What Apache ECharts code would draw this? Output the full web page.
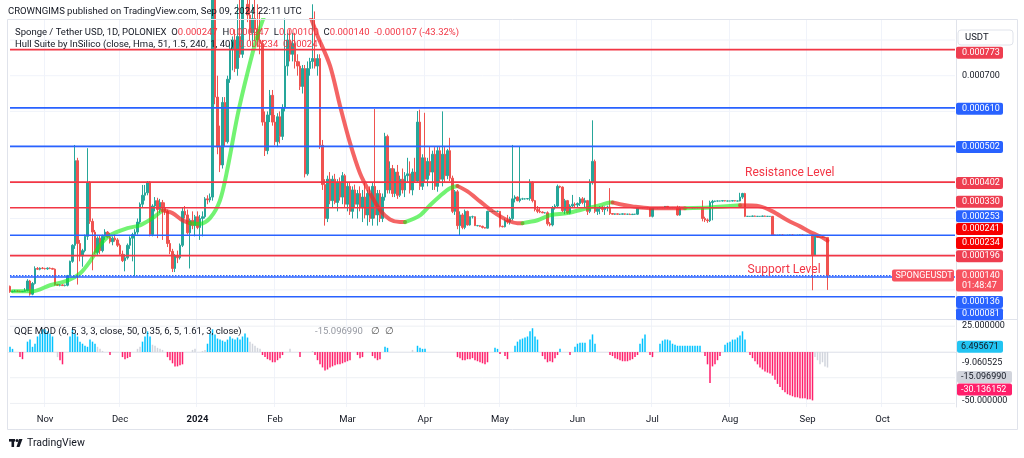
<!DOCTYPE html>
<html><head><meta charset="utf-8">
<script src="https://cdn.jsdelivr.net/npm/echarts@6/dist/echarts.min.js"></script>
<style>html,body{margin:0;padding:0;background:#fff;}#c{width:1024px;height:458px;}</style>
</head><body><div id="c"></div>
<script>
// ---------------- DATA (prices in micro-USDT, i.e. 1e-6 USDT) ----------------
const firstCandleDate = '2023-10-18';
const axisDays = 379; // category slots on the time axis (data ends 2024-09-09)
const monthLabels = {'2023-11-01':'Nov','2023-12-01':'Dec','2024-01-01':'2024','2024-02-01':'Feb','2024-03-01':'Mar',
  '2024-04-01':'Apr','2024-05-01':'May','2024-06-01':'Jun','2024-07-01':'Jul','2024-08-01':'Aug','2024-09-01':'Sep','2024-10-01':'Oct'};
// daily candles [open, high, low, close]
const candles = [
[110,112,92,95],[95,98,93,96],[96,100,94,97],[97,99,95,96],[96,98,94,95],[95,97,94,96],[96,105,95,98],[98,130,96,125],[125,128,84,88],[88,122,85,118],
[118,166,115,160],[160,164,156,158],[158,163,155,161],[161,164,158,160],[160,162,157,159],[159,163,156,161],[161,163,158,160],[160,162,157,158],[158,160,112,115],[115,117,111,113],
[113,116,110,114],[114,116,111,112],[112,115,110,113],[113,142,110,140],[140,182,138,180],[180,228,176,225],[225,506,215,462],[462,470,115,230],[230,240,180,195],[195,215,165,210],
[210,255,205,250],[250,497,240,400],[400,405,285,292],[292,300,155,262],[262,268,200,205],[205,250,198,245],[245,252,200,210],[210,255,205,250],[250,270,240,262],[262,265,245,248],
[248,260,230,235],[235,250,225,245],[245,255,235,240],[240,245,220,225],[225,230,195,200],[200,210,178,182],[182,200,152,190],[190,230,185,225],[225,250,215,245],[245,260,180,255],
[255,270,138,262],[262,300,255,290],[290,345,285,340],[340,394,330,365],[365,394,350,372],[372,405,365,402],[402,405,250,255],[255,340,250,335],[335,360,320,350],[350,358,245,325],
[325,355,315,345],[345,352,240,330],[330,345,310,320],[320,325,220,230],[230,240,200,208],[208,215,150,160],[160,200,150,195],[195,210,175,190],[190,230,185,225],[225,330,220,320],
[320,335,300,310],[310,325,255,260],[260,300,160,295],[295,320,270,280],[280,310,250,305],[305,320,270,275],[275,310,240,300],[300,320,250,305],[305,360,300,355],[355,365,340,352],
[352,370,345,360],[360,1000,350,950],[950,990,620,640],[640,700,480,500],[500,560,430,450],[450,640,440,625],[625,640,500,515],[515,700,510,690],[690,790,680,775],[775,810,715,800],
[800,830,710,720],[720,900,700,810],[810,950,750,760],[760,1000,750,950],[950,1050,880,900],[900,980,850,870],[870,950,800,820],[820,900,780,860],[860,920,800,830],[830,900,780,800],
[800,880,760,790],[790,800,560,570],[570,600,475,490],[490,600,480,590],[590,660,570,645],[645,660,560,570],[570,590,505,515],[515,595,500,585],[585,600,510,530],[530,620,520,610],
[610,860,600,727],[727,820,700,800],[800,830,740,760],[760,820,740,790],[790,820,720,740],[740,760,700,727],[727,740,660,670],[670,730,650,720],[720,730,415,425],[425,740,420,720],
[720,750,700,740],[740,900,720,748],[748,880,720,727],[727,760,700,748],[748,760,495,505],[505,520,380,395],[395,410,280,300],[300,420,290,410],[410,430,340,350],[350,420,330,410],
[410,425,340,345],[345,410,320,400],[400,415,350,360],[360,430,340,420],[420,425,330,340],[340,400,320,390],[390,400,310,320],[320,390,300,380],[380,395,330,340],[340,380,300,370],
[370,390,320,330],[330,380,290,360],[360,400,300,310],[310,380,280,370],[370,390,290,300],[300,400,280,390],[390,607,300,310],[310,380,280,370],[370,380,290,300],[300,370,290,360],
[360,540,350,530],[530,535,370,380],[380,460,370,440],[440,450,360,370],[370,440,360,430],[430,450,355,365],[365,420,360,410],[410,440,370,380],[380,430,360,420],[420,470,400,425],
[425,460,370,380],[380,440,365,430],[430,470,400,405],[405,601,400,570],[570,605,380,390],[390,480,380,470],[470,596,400,410],[410,470,390,460],[460,500,420,430],[430,490,380,480],
[480,500,380,390],[390,500,375,490],[490,500,400,410],[410,600,390,480],[480,500,400,420],[420,495,410,490],[490,526,405,413],[413,420,315,320],[320,380,310,375],[375,380,270,280],
[280,320,253,310],[310,315,270,275],[275,325,270,320],[320,322,280,282],[282,306,280,305],[305,308,300,305],[305,306,279,280],[280,282,278,280],[280,281,276,278],[278,280,272,275],
[275,276,272,273],[273,322,272,320],[320,321,319,320],[320,321,319,320],[320,321,319,320],[320,322,318,320],[320,321,275,278],[278,280,275,277],[277,300,275,295],[295,310,285,290],
[290,305,283,300],[300,506,295,355],[355,365,345,360],[360,362,348,350],[350,503,345,355],[355,358,352,355],[355,357,353,355],[355,357,353,356],[356,410,350,402],[402,404,345,350],
[350,352,320,325],[325,335,315,320],[320,330,315,318],[318,320,315,316],[316,318,314,316],[316,320,280,285],[285,290,278,282],[282,335,278,330],[330,340,325,335],[335,395,330,390],
[390,392,385,388],[388,390,318,322],[322,355,312,350],[350,352,312,315],[315,340,312,335],[335,366,330,340],[340,345,330,338],[338,345,330,342],[342,360,335,355],[355,360,340,345],
[345,358,330,350],[350,352,310,320],[320,410,315,400],[400,575,395,460],[460,465,315,320],[320,330,310,328],[328,335,312,332],[332,336,318,325],[325,334,310,330],[330,336,320,332],
[332,385,310,314],[314,315,311,312],[312,314,310,313],[313,314,311,312],[312,313,310,312],[312,314,311,313],[313,314,310,312],[312,313,311,312],[312,314,310,311],[311,313,310,312],
[312,313,310,312],[312,332,310,330],[330,331,329,330],[330,331,329,330],[330,332,329,331],[331,332,329,330],[330,332,304,306],[306,332,303,330],[330,331,329,330],[330,331,329,330],
[330,332,329,331],[331,332,329,330],[330,335,329,334],[334,335,329,330],[330,331,329,330],[330,332,329,331],[331,332,329,330],[330,336,308,310],[310,334,308,330],[330,331,329,330],
[330,331,329,330],[330,332,329,331],[331,332,329,330],[330,331,329,330],[330,331,329,330],[330,332,329,331],[331,332,329,330],[330,351,292,300],[300,305,290,296],[296,300,288,294],
[294,350,290,345],[345,352,295,348],[348,350,346,349],[349,350,348,349],[349,350,348,349],[349,351,348,350],[350,351,348,349],[349,350,348,349],[349,350,348,349],[349,351,348,350],
[350,351,348,349],[349,350,348,349],[349,372,348,360],[360,372,355,370],[370,372,304,306],[306,307,305,306],[306,307,305,306],[306,308,305,307],[307,308,305,306],[306,307,305,306],
[306,307,305,306],[306,308,305,307],[307,308,305,306],[306,307,305,306],[306,307,305,306],[306,307,252,254],[254,255,252,253],[253,254,252,253],[253,255,252,254],[254,255,252,253],
[253,254,252,253],[253,254,252,253],[253,255,252,254],[254,255,252,253],[253,254,252,253],[253,254,252,253],[253,255,252,254],[254,255,252,253],[253,254,252,253],[253,254,252,253],
[253,254,252,253],[253,255,99,198],[198,252,195,250],[250,251,246,247],[247,249,246,248],[248,249,246,247],[247,248,246,247],[247,247,100,140]
];
// Hull Suite band: [dayIndex, value, direction(1 up / -1 down)]
const hullPts = [
[1,96,1],[9,96,1],[16,113,1],[23,126,1],[28,146,1],[32,180,1],[36,225,1],[40,253,1],[47,273,1],[52,281,1],[57,301,1],[61,323,1],
[65,315,-1],[69,295,-1],[72,287,-1],
[76,285,1],[80,301,1],[84,351,1],[87,440,1],[91,588,1],[95,708,1],[99,812,1],[103,890,1],[108,960,1],
[116,930,-1],[123,812,-1],[128,728,-1],[132,616,-1],[136,512,-1],[140,427,-1],[144,371,-1],[148,324,-1],[152,297,-1],[156,290,-1],[158,290,-1],
[164,309,1],[168,337,1],[172,363,1],[176,385,1],[179,391,1],
[183,376,-1],[188,348,-1],[193,320,-1],[199,295,-1],[203,287,-1],[205,287,-1],
[211,295,1],[216,309,1],[223,315,1],[231,329,1],[236,337,1],[240,345,1],[241,345,1],
[244,340,-1],[249,334,-1],[256,329,-1],[263,329,-1],[270,329,-1],
[280,331,1],[292,337,1],
[300,334,-1],[305,320,-1],[311,295,-1],[316,278,-1],[321,259,-1],[325,247,-1],[327,238,-1]
];
// QQE MOD histogram runs: [startDayIndex, state(u up / d down / g neutral), values...]
const qqeRuns = [
[0,'u',[5,3]],[4,'d',[-5,-7]],[7,'u',[10,12,5,8,15,18,22,22,20,18,15]],[19,'g',[-5]],[20,'d',[-8,-12]],
[24,'u',[15,22,18,15,10,8,6,5,12,10,8]],[35,'g',[5,3,1]],[40,'d',[-3]],[45,'d',[-5,-7,-6,-5]],[51,'g',[3,5]],
[53,'u',[10,15,20,15]],[57,'g',[7,6,4,3,2]],[63,'d',[-5,-8,-11,-14,-14,-13,-12]],[73,'g',[2,3]],[77,'g',[1,2]],
[79,'u',[8,18,22,17,13,12,11,10,12,15,13,12,14,12,15,18,14]],[96,'g',[10,8,6,4,3]],[101,'d',[-3,-5,-7,-8,-10,-10,-8,-6,-3]],
[112,'g',[3]],[116,'d',[-5]],[121,'g',[1]],[122,'d',[-3,-8,-12,-15,-18,-17,-15,-14,-13,-12,-12,-11,-10,-9,-8]],
[139,'d',[-3,-6,-5]],[145,'d',[-4,-6,-8,-7]],[150,'u',[5,4]],[161,'g',[2]],[163,'u',[6,4,3,3]],
[179,'d',[-5,-6,-8,-8,-7,-7,-6,-8,-9,-10,-11,-12,-10]],[194,'u',[4,3]],[196,'d',[-2]],[198,'d',[-4,-7]],
[202,'u',[6,10,12,13,14,15,20,23,15,12]],[213,'d',[-4,-7,-10,-9,-10,-6,-3]],[220,'u',[3]],[224,'d',[-3]],
[226,'u',[5,8,9,9,9]],[232,'u',[12,17,8]],[240,'d',[-3,-4,-6,-7,-8,-9,-9,-9,-8,-7,-5,-3]],[252,'u',[8,13,17]],
[256,'d',[-3,-5]],[260,'u',[8,11,12,12,11,8,7,6,6,6,6,6,6,6,6,6,6]],[278,'d',[-4,-12,-30,-14,-12,-8,-4]],
[286,'u',[7,9,10,12,12,14,16,20,12]],
[296,'d',[-3,-6,-9,-12,-15,-17,-19,-20,-21,-23,-27,-31,-34,-37,-39,-41,-42,-43,-44,-44,-45,-45,-45,-46,-46,-47]],
[322,'g',[-5,-8,-12,-10,-14,-15.09699]]
];
// drawn horizontal levels (µUSDT) and their kind
const levelValues = [773,610,502,402,330,253,196,136,81];
const levelKinds  = ['r','b','b','r','r','b','r','b','b'];
const lastPrice = 140;
const hullLast = [241,234];
const priceGrid = [100,200,300,400,500,600,700,800];
const priceTick = 700;
const qqeGrid = [25,0,-25,-50];
const qqeTicks = [25,-50];
const qqeBadges = [[6.495671,'u'],[-15.09699,'g'],[-30.136152,'d']];
const qqePlain = -9.060525;

// ---------------- STYLE / LAYOUT ----------------
const C = {up:'#26a69a', dn:'#ef5350', red:'#f23645', blue:'#2962ff', text:'#131722', grid:'#f0f3fa', frame:'#e0e3eb',
  qu:'#00c3ff', qd:'#ff1f6b', qg:'#d1d4dc', hullUp:'rgba(20,235,20,0.6)', hullDn:'rgba(240,40,40,0.72)'};
const FONT = 'Roboto, "Noto Sans", sans-serif';
const toP = v => v / 1e6;

const cats = [];
const t0 = Date.parse(firstCandleDate + 'T00:00:00Z');
for (let k = 0; k < axisDays; k++) cats.push(new Date(t0 + k * 86400000).toISOString().slice(0, 10));
const isMonth = (idx, val) => Object.prototype.hasOwnProperty.call(monthLabels, val);
const firstCat = cats[0], lastCat = cats[cats.length - 1];

const candleData = candles.map(([o,h,l,c]) => [toP(o), toP(c), toP(l), toP(h)]);

// hull segments grouped by direction
const hullSeries = [];
let seg = null;
hullPts.forEach((p, k) => {
  if (!seg || seg.dir !== p[2]) {
    const prev = k > 0 ? hullPts[k-1] : null;
    seg = {dir: p[2], pts: prev ? [[prev[0], toP(prev[1])]] : []};
    hullSeries.push(seg);
  }
  seg.pts.push([p[0], toP(p[1])]);
});

const qCol = {u:C.qu, d:C.qd, g:C.qg};
const qqeData = new Array(candles.length).fill('-');
qqeRuns.forEach(([s, st, vals]) => vals.forEach((v, j) => { qqeData[s + j] = {value: v, itemStyle: {color: qCol[st]}}; }));

// horizontal rule as a two-point line series
function hRule(xi, yi, value, color, width, type, z) {
  return {type:'line', xAxisIndex:xi, yAxisIndex:yi, data:[[firstCat, value],[lastCat, value]], symbol:'none', showSymbol:false,
    silent:true, z:z, clip:true, lineStyle:{color:color, width:width, type:type}};
}

const chart = echarts.init(document.getElementById('c'));
const GL = 8.75, GW = 947.5;
const xBase = {type:'category', data:cats, boundaryGap:true, axisTick:{show:false},
  splitLine:{show:true, interval:isMonth, lineStyle:{color:C.grid, width:1}}};

const series = [];
priceGrid.forEach(v => series.push(hRule(0, 0, toP(v), C.grid, 1, 'solid', 1)));
qqeGrid.forEach(v => series.push(hRule(1, 1, v, '#eef0f4', 1, 'solid', 1)));
series.push({type:'candlestick', name:'SPONGEUSDT', xAxisIndex:0, yAxisIndex:0, data:candleData, barWidth:1.7, clip:true,
  itemStyle:{color:C.up, color0:C.dn, borderColor:C.up, borderColor0:C.dn, borderWidth:1}, z:3});
hullSeries.forEach(s => series.push({type:'line', xAxisIndex:0, yAxisIndex:0, data:s.pts, showSymbol:false, symbol:'none',
  smooth:0.3, clip:true, z:5, silent:true,
  lineStyle:{color: s.dir > 0 ? C.hullUp : C.hullDn, width:4, cap:'round', join:'round'}}));
levelValues.forEach((v, k) => series.push(hRule(0, 0, toP(v), levelKinds[k]==='r' ? C.red : C.blue, 1.6, 'solid', 6)));
series.push(hRule(0, 0, toP(lastPrice), C.blue, 1.4, [1.5, 1.5], 6));
series.push({type:'bar', xAxisIndex:1, yAxisIndex:1, data:qqeData, barWidth:1.5, z:3});

chart.setOption({
  animation:false,
  backgroundColor:'#ffffff',
  grid:[{left:GL, width:GW, top:20, height:299},{left:GL, width:GW, top:320, height:87}],
  xAxis:[
    Object.assign({}, xBase, {gridIndex:0, axisLine:{show:false}, axisLabel:{show:false}}),
    Object.assign({}, xBase, {gridIndex:1, axisLine:{show:true, lineStyle:{color:C.frame}},
      axisLabel:{show:true, interval:isMonth, margin:8, color:C.text, fontSize:9.5, fontFamily:FONT,
        formatter: v => v === '2024-01-01' ? '{b|2024}' : monthLabels[v],
        rich:{b:{fontWeight:'bold', fontSize:9.5, color:C.text, fontFamily:FONT}}}})
  ],
  yAxis:[
    {gridIndex:0, type:'value', position:'right', min:toP(18.5), max:toP(856),
      axisLine:{show:true, lineStyle:{color:C.frame}}, axisTick:{show:false}, axisLabel:{show:false}, splitLine:{show:false}},
    {gridIndex:1, type:'value', position:'right', min:-53.4, max:31,
      axisLine:{show:true, lineStyle:{color:C.frame}}, axisTick:{show:false}, axisLabel:{show:false}, splitLine:{show:false}}
  ],
  series: series
});

// ---------------- ANNOTATIONS (axis badges, legend texts) ----------------
const py0 = v => chart.convertToPixel({yAxisIndex:0}, toP(v));
const py1 = v => chart.convertToPixel({yAxisIndex:1}, v);
const pxDay = i => chart.convertToPixel({xAxisIndex:0}, cats[i]);
const AX = 956;
const BF = '9px ' + FONT;
let zc = 100;
function badge(y, text, bg, fg, w) {
  zc += 2;
  return [
    {type:'rect', z:zc, shape:{x:AX, y:y-6, width:w||47, height:12, r:2}, style:{fill:bg}},
    {type:'text', z:zc+1, x:AX+6, y:y, style:{text:text, fill:fg||'#fff', font:BF, align:'left', verticalAlign:'middle', textAlign:'left', textVerticalAlign:'middle'}}
  ];
}
function txt(x, y, text, fill, size, extra, z) {
  return {type:'text', z:z||300, x:x, y:y, style:Object.assign({text:text, fill:fill||C.text, font:(size||9.5)+'px '+FONT,
    align:'left', verticalAlign:'middle', textAlign:'left', textVerticalAlign:'middle'}, extra||{})};
}
// label collision shifts (px), as laid out by the original price scale
const badgeShift = {773:3, 610:1, 502:0.6, 402:1, 330:-6, 253:-19, 196:0.5, 136:25, 81:17.5};
const hullShift = [-10.6, 1];
const G = [];
G.push({type:'rect', z:90, shape:{x:7.5, y:19.5, width:1010, height:410}, style:{fill:'none', stroke:C.frame, lineWidth:1}});
G.push({type:'line', z:90, shape:{x1:7.5, y1:319.5, x2:1017.5, y2:319.5}, style:{stroke:C.frame, lineWidth:1}});
G.push(txt(8, 12, 'CROWNGIMS published on TradingView.com, Sep 09, 2024 22:11 UTC', C.text, 9.5));
G.push(txt(962, py0(priceTick), (priceTick/1e6).toFixed(6), C.text, 9, null, 95));
levelValues.forEach((v, k) => {
  G.push(...badge(py0(v) + (badgeShift[v]||0), (v/1e6).toFixed(6), levelKinds[k]==='r' ? '#ee3e50' : C.blue));
});
hullLast.forEach((v, k) => G.push(...badge(py0(v) + hullShift[k], (v/1e6).toFixed(6), '#f70000')));
// last price badge with countdown
const yLast = py0(lastPrice);
G.push({type:'rect', z:250, shape:{x:AX, y:yLast-6, width:47, height:22, r:2}, style:{fill:'#f7525f'}});
G.push(txt(AX+6, yLast+0.5, (lastPrice/1e6).toFixed(6), '#fff', 9, null, 251));
G.push(txt(AX+6, yLast+10.5, '01:48:47', '#fff', 9, null, 251));
G.push({type:'rect', z:250, shape:{x:892, y:yLast-6, width:62, height:12, r:2}, style:{fill:'#f7525f'}});
G.push(txt(895.5, yLast+0.5, 'SPONGEUSDT', '#fff', 9, null, 251));
// USDT box
G.push({type:'rect', z:260, shape:{x:958, y:30, width:55, height:15, r:3}, style:{fill:'#fff', stroke:C.frame, lineWidth:1}});
G.push(txt(965, 37.5, 'USDT', C.text, 9.5, null, 261));
// legend
G.push(txt(15, 33, '', C.text, 9.5, {text:'{k|Sponge / Tether USD, 1D, POLONIEX}  {k|O}{r|0.000247}  {k|H}{r|0.000247}  {k|L}{r|0.000100}  {k|C}{r|0.000140}  {r|-0.000107 (-43.32%)}',
  rich:{k:{fill:C.text, font:'9.5px '+FONT}, r:{fill:C.red, font:'9.5px '+FONT}}}));
G.push(txt(15, 44.5, '', C.text, 9.5, {text:'{k|Hull Suite by InSilico (close, Hma, 51, 1.5, 240, 1, 40)}  {r|0.000234}  {r|0.000241}',
  rich:{k:{fill:C.text, font:'9.5px '+FONT}, r:{fill:C.red, font:'9.5px '+FONT}}}));
// level captions
G.push(txt(pxDay(294), py0(402) - 9.5, 'Resistance Level', C.red, 12));
G.push(txt(pxDay(295), py0(140) - 5.5, 'Support Level', C.red, 12));
// QQE pane texts
G.push(txt(14, 332, 'QQE MOD (6, 5, 3, 3, close, 50, 0.35, 6, 5, 1.61, 3, close)', C.text, 9.5));
G.push(txt(315, 332, '-15.096990', '#9598a1', 9.5));
G.push(txt(371, 332, '\u2205  \u2205', '#555', 9.5));
const qShift = {'u':1.5, 'g':9.4, 'd':6.5};
qqeTicks.forEach((v, k) => G.push(txt(962, py1(v) + (k ? -2.8 : 0), v.toFixed(6), C.text, 9, null, 95)));
G.push(txt(962, py1(qqePlain) + 1.4, qqePlain.toFixed(6), C.text, 9, null, 95));
qqeBadges.forEach(([v, st]) => {
  const y = py1(v) + qShift[st];
  G.push({type:'rect', z:200, shape:{x:AX+1, y:y-6, width: st==='u'?46:55, height:12, r:2}, style:{fill: st==='u' ? '#22c4f2' : st==='d' ? '#ff1f6b' : '#d1d4dc'}});
  G.push(txt(AX+5, y, v.toFixed(6), st==='d' ? '#fff' : C.text, 9, null, 201));
});
// TradingView logo
G.push({type:'rect', z:100, shape:{x:9, y:439, width:6, height:2.6}, style:{fill:C.text}});
G.push({type:'rect', z:100, shape:{x:11.5, y:439, width:2.6, height:8}, style:{fill:C.text}});
G.push({type:'circle', z:100, shape:{cx:17, cy:440.5, r:1.5}, style:{fill:C.text}});
G.push({type:'polygon', z:100, shape:{points:[[19,439],[22.5,439],[19.5,447],[16.5,447]]}, style:{fill:C.text}});
G.push(txt(27, 443.5, 'TradingView', C.text, 10.5));
chart.setOption({graphic: G});
</script>
</body></html>
